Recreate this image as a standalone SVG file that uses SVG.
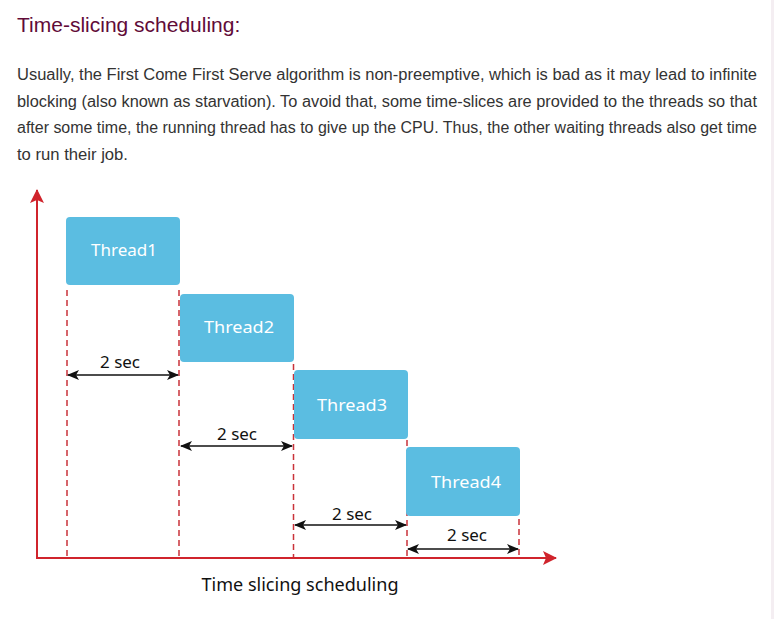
<svg xmlns="http://www.w3.org/2000/svg" width="774" height="619" viewBox="0 0 774 619">
<style>
.title{font-family:"Liberation Sans",Arial,sans-serif;font-size:21px;fill:#610B38}
.para{font-family:"Liberation Sans",Arial,sans-serif;font-size:16px;fill:#333}
.box{fill:#5bbde1}
.lbl{font-family:"Noto Sans","Open Sans",sans-serif;font-size:17px;fill:#ffffff;text-anchor:middle}
.sec{font-family:"Noto Sans","Open Sans",sans-serif;font-size:16px;fill:#111;text-anchor:middle}
.cap{font-family:"Noto Sans","Open Sans",sans-serif;font-size:18px;fill:#111;text-anchor:middle}
.axis{stroke:#d0242c;stroke-width:2;fill:none}
.dash{stroke:#c9323a;stroke-width:1.5;stroke-dasharray:6 4;fill:none}
.dim{stroke:#111;stroke-width:1.6;fill:none;marker-start:url(#ah);marker-end:url(#ah)}
</style>
<defs>
<marker id="ah" viewBox="0 0 12 10" refX="11" refY="5" markerWidth="12" markerHeight="10" markerUnits="userSpaceOnUse" orient="auto-start-reverse">
<path d="M0,0 L12,5 L0,10 L3,5 Z" fill="#111"/>
</marker>
<marker id="ra" viewBox="0 0 14 14" refX="13" refY="7" markerWidth="14" markerHeight="14" markerUnits="userSpaceOnUse" orient="auto">
<path d="M0,0 L14,7 L0,14 L3,7 Z" fill="#d0242c"/>
</marker>
</defs>
<rect x="0" y="0" width="774" height="619" fill="#ffffff"/>
<rect x="771" y="0" width="3" height="619" fill="#f4eef2"/>
<text class="title" x="17" y="32">Time-slicing scheduling:</text>
<text class="para" x="17" y="80" textLength="740" lengthAdjust="spacingAndGlyphs">Usually, the First Come First Serve algorithm is non-preemptive, which is bad as it may lead to infinite</text>
<text class="para" x="17" y="107" textLength="740" lengthAdjust="spacingAndGlyphs">blocking (also known as starvation). To avoid that, some time-slices are provided to the threads so that</text>
<text class="para" x="17" y="133" textLength="740" lengthAdjust="spacingAndGlyphs">after some time, the running thread has to give up the CPU. Thus, the other waiting threads also get time</text>
<text class="para" x="17" y="160" textLength="111" lengthAdjust="spacingAndGlyphs">to run their job.</text>
<g id="connectors">
<line class="axis" x1="37" y1="558" x2="37" y2="190" marker-end="url(#ra)"/>
<line class="axis" x1="36" y1="558" x2="556" y2="558" marker-end="url(#ra)"/>
<line class="dash" x1="67" y1="290" x2="67" y2="557"/>
<line class="dash" x1="179" y1="290" x2="179" y2="557"/>
<line class="dash" x1="293.5" y1="364" x2="293.5" y2="557"/>
<line class="dash" x1="407" y1="440" x2="407" y2="557"/>
<line class="dash" x1="519" y1="519" x2="519" y2="557"/>
<line class="dim" x1="68" y1="375" x2="178" y2="375"/>
<line class="dim" x1="181" y1="446" x2="292" y2="446"/>
<line class="dim" x1="295" y1="525" x2="406" y2="525"/>
<line class="dim" x1="408" y1="549" x2="518" y2="549"/>
<text class="sec" x="120" y="368" textLength="40" lengthAdjust="spacingAndGlyphs">2 sec</text>
<text class="sec" x="237" y="440" textLength="40" lengthAdjust="spacingAndGlyphs">2 sec</text>
<text class="sec" x="352" y="520" textLength="40" lengthAdjust="spacingAndGlyphs">2 sec</text>
<text class="sec" x="467" y="541" textLength="40" lengthAdjust="spacingAndGlyphs">2 sec</text>
</g>
<g id="thread1"><rect class="box" x="66" y="217" width="114" height="68" rx="4"/><text class="lbl" x="124" y="256" textLength="66" lengthAdjust="spacingAndGlyphs">Thread1</text></g>
<g id="thread2"><rect class="box" x="180" y="294" width="114" height="68" rx="4"/><text class="lbl" x="239" y="333" textLength="70" lengthAdjust="spacingAndGlyphs">Thread2</text></g>
<g id="thread3"><rect class="box" x="294" y="370" width="114" height="69" rx="4"/><text class="lbl" x="352" y="411" textLength="70" lengthAdjust="spacingAndGlyphs">Thread3</text></g>
<g id="thread4"><rect class="box" x="406" y="447" width="114" height="69" rx="4"/><text class="lbl" x="466" y="488" textLength="70" lengthAdjust="spacingAndGlyphs">Thread4</text></g>
<text class="cap" x="300" y="591" textLength="197" lengthAdjust="spacingAndGlyphs">Time slicing scheduling</text>
</svg>
